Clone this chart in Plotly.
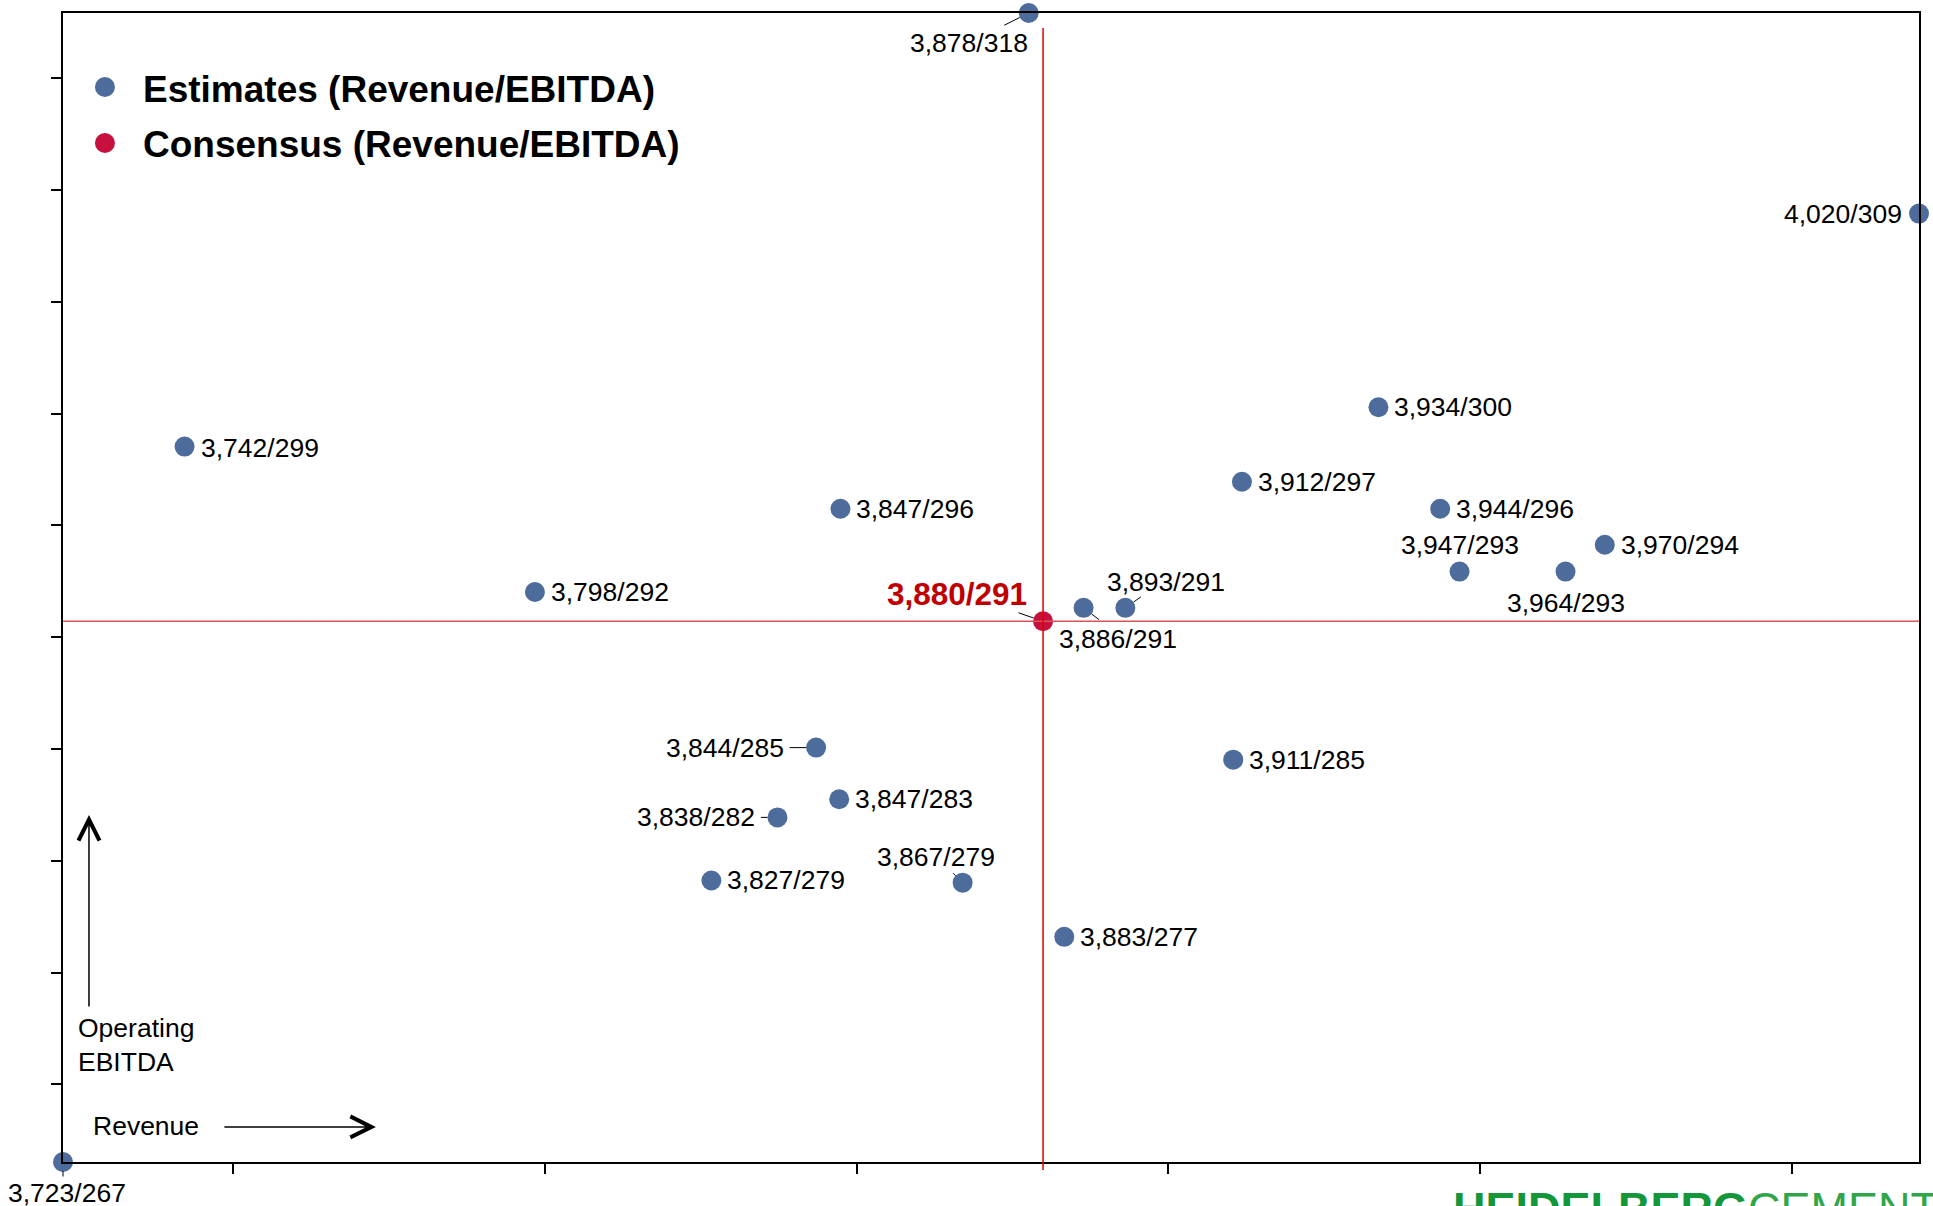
import plotly.graph_objects as go

# ---------------- data ----------------
revenue = [3877.6, 4020.4, 3933.7, 3742.2, 3911.8, 3847.4, 3943.6, 3970.0, 3946.7, 3963.7,
           3798.4, 3893.1, 3886.4, 3843.5, 3910.4, 3847.2, 3837.3, 3826.7, 3867.0, 3883.3, 3722.7]
ebitda = [317.91, 308.94, 300.28, 298.52, 296.95, 295.74, 295.74, 294.13, 292.93, 292.93,
          292.02, 291.31, 291.31, 285.06, 284.52, 282.75, 281.94, 279.12, 279.02, 276.60, 266.53]
labels = ["3,878/318", "4,020/309", "3,934/300", "3,742/299", "3,912/297", "3,847/296",
          "3,944/296", "3,970/294", "3,947/293", "3,964/293", "3,798/292", "3,893/291",
          "3,886/291", "3,844/285", "3,911/285", "3,847/283", "3,838/282", "3,827/279",
          "3,867/279", "3,883/277", "3,723/267"]

cons_revenue = 3879.9
cons_ebitda = 290.71
cons_label = "3,880/291"

legend_names = ["Estimates (Revenue/EBITDA)", "Consensus (Revenue/EBITDA)"]
x_ticks = [3750, 3800, 3850, 3900, 3950, 4000]
y_ticks = [270, 275, 280, 285, 290, 295, 300, 305, 310, 315]

# ---------------- styles ----------------
BLUE = "#4D6C9C"
RED = "#C8103E"
LABEL_RED = "#C00000"
FONT = "Liberation Sans, Arial, sans-serif"
LBL = 26.5

# label placement: (mode, dx, dy) in pixels; mode r=left-anchored right of point,
# l=right-anchored left of point, c=centered at offset
place = [("c", -60, 30), ("l", -15, 0), ("r", 14, 0), ("r", 14, 1), ("r", 14, 0), ("r", 14, 0),
         ("r", 14, 0), ("r", 14, 0), ("c", 0, -27), ("c", 0, 31), ("r", 14, 0), ("c", 41, -26),
         ("c", 34, 31), ("l", -30, 0), ("r", 14, 0), ("r", 14, 0), ("l", -20, 0), ("r", 14, 0),
         ("c", -27, -26), ("r", 14, 0), ("c", 4, 31)]
# leader lines: index -> (ax, ay, standoff)
leaders = {0: (-26, 13, 10), 11: (17, -12, 10), 12: (17, 13, 10), 13: (-28, 0, 10),
           16: (-18, 0, 10), 18: (-11, -11, 10), 20: (0, 16, 9)}

fig = go.Figure()
fig.add_trace(go.Scatter(x=revenue, y=ebitda, mode="markers",
                         marker=dict(size=20, color=BLUE, line=dict(width=0)),
                         cliponaxis=False, showlegend=False, hoverinfo="skip"))
fig.add_trace(go.Scatter(x=[cons_revenue], y=[cons_ebitda], mode="markers",
                         marker=dict(size=20, color=RED, line=dict(width=0)),
                         cliponaxis=False, showlegend=False, hoverinfo="skip"))

ann = []
for i, (xv, yv, t) in enumerate(zip(revenue, ebitda, labels)):
    mode, dx, dy = place[i]
    xa = {"r": "left", "l": "right", "c": "center"}[mode]
    ann.append(dict(x=xv, y=yv, xref="x", yref="y", text=t, showarrow=False,
                    xanchor=xa, yanchor="middle", xshift=dx, yshift=-dy,
                    font=dict(family=FONT, size=LBL, color="black")))
    if i in leaders:
        ax, ay, so = leaders[i]
        ann.append(dict(x=xv, y=yv, xref="x", yref="y", text="", showarrow=True,
                        arrowhead=0, arrowwidth=1, arrowcolor="black",
                        ax=ax, ay=ay, standoff=so))

# consensus label + leader
ann.append(dict(x=cons_revenue, y=cons_ebitda, xref="x", yref="y", text="<b>" + cons_label + "</b>",
                showarrow=False, xanchor="center", yanchor="middle", xshift=-86, yshift=27,
                font=dict(family=FONT, size=31.5, color=LABEL_RED)))
ann.append(dict(x=cons_revenue, y=cons_ebitda, xref="x", yref="y", text="", showarrow=True,
                arrowhead=0, arrowwidth=1, arrowcolor="black", ax=-26, ay=-9, standoff=10))

# legend text
for name, yp in zip(legend_names, [0.9335, 0.8857]):
    ann.append(dict(x=0.0420, y=yp, xref="paper", yref="paper", text="<b>" + name + "</b>",
                    showarrow=False, xanchor="left", yanchor="middle",
                    font=dict(family=FONT, size=37, color="black")))

# axis direction hints
ann.append(dict(x=0.0140, y=0.3020, xref="paper", yref="paper", text="", showarrow=True,
                arrowhead=5, arrowwidth=1.5, arrowsize=2.75, arrowcolor="black", ax=0, ay=193))
ann.append(dict(x=0.1686, y=0.0305, xref="paper", yref="paper", text="", showarrow=True,
                arrowhead=5, arrowwidth=1.5, arrowsize=2.75, arrowcolor="black", ax=-153, ay=0))
ann.append(dict(x=0.0068, y=0.1014, xref="paper", yref="paper", text="Operating<br>EBITDA",
                showarrow=False, xanchor="left", yanchor="middle", align="left",
                font=dict(family=FONT, size=LBL, color="black")))
ann.append(dict(x=0.0150, y=0.0313, xref="paper", yref="paper", text="Revenue",
                showarrow=False, xanchor="left", yanchor="middle",
                font=dict(family=FONT, size=LBL, color="black")))

# logo (cut off at page bottom)
ann.append(dict(x=0.748, y=-0.0165, xref="paper", yref="paper",
                text="<b>HEIDELBERG</b><span style='color:#2FA64A'>CEMENT</span>",
                showarrow=False, xanchor="left", yanchor="top",
                font=dict(family=FONT, size=45, color="#14963A")))

shapes = [
    dict(type="line", xref="paper", yref="y", x0=0, x1=1, y0=cons_ebitda, y1=cons_ebitda,
         line=dict(color="#D95555", width=1.5), layer="above"),
    dict(type="line", xref="x", yref="paper", x0=cons_revenue, x1=cons_revenue, y0=-0.007, y1=0.987,
         line=dict(color="#E00000", width=1.5), layer="above"),
]
for col, yp in zip([BLUE, RED], [0.9356, 0.8869]):
    shapes.append(dict(type="circle", xref="paper", yref="paper", xsizemode="pixel", ysizemode="pixel",
                       xanchor=0.0226, yanchor=yp, x0=-10, x1=10, y0=-10, y1=10,
                       fillcolor=col, line=dict(width=0)))

axis_common = dict(showgrid=False, zeroline=False, showline=True, linecolor="black", linewidth=2,
                   mirror=True, ticks="outside", ticklen=10, tickwidth=1.5, tickcolor="black",
                   showticklabels=False)

fig.update_layout(
    width=1933, height=1206, autosize=False,
    margin=dict(l=63, r=14, t=13, b=44, pad=0),
    paper_bgcolor="white", plot_bgcolor="white",
    xaxis=dict(range=[min(revenue), max(revenue)], tickvals=x_ticks, **axis_common),
    yaxis=dict(range=[min(ebitda), max(ebitda)], tickvals=y_ticks, **axis_common),
    annotations=ann, shapes=shapes, showlegend=False,
    font=dict(family=FONT),
)

fig.write_html("out.html", config={"displayModeBar": False},
               post_script="document.body.style.margin='0';document.body.style.overflow='hidden';")
